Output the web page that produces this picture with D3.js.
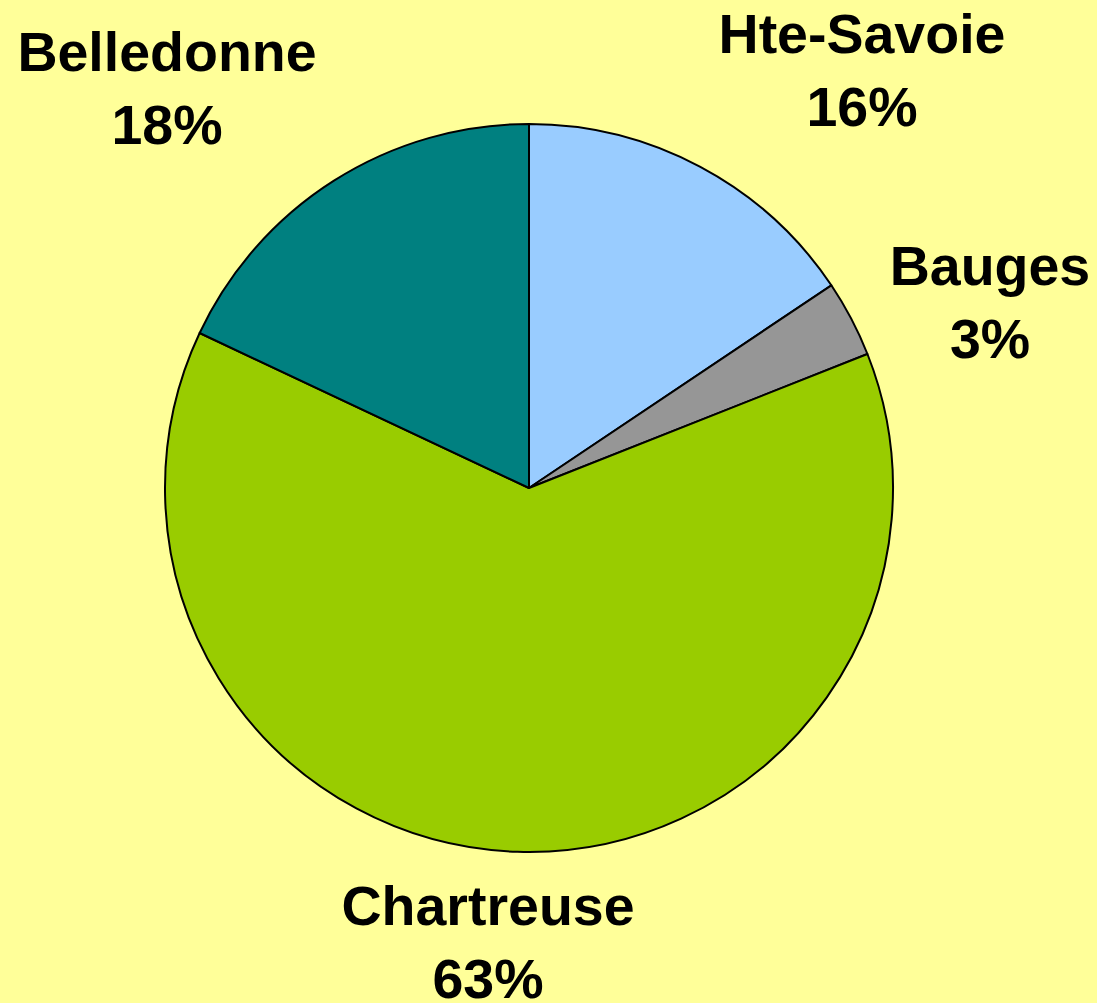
<!DOCTYPE html>
<html>
<head>
<meta charset="utf-8">
<script src="https://cdn.jsdelivr.net/npm/d3@7"></script>
<style>
  html, body { margin: 0; padding: 0; background: #ffff99; }
  svg { display: block; }
</style>
</head>
<body>
<svg class="pie" width="1097" height="1003"></svg>
<script>
// Data (clockwise from 12 o'clock).
const regions = ["Hte-Savoie", "Bauges", "Chartreuse", "Belledonne"];
const shares = [15.6, 3.4, 63, 18];
const sliceColors = ["#99ccff", "#969696", "#99cc00", "#008080"];
// Label anchor (centre x, first baseline y) for each slice.
const labelPos = [[862, 53], [990, 285], [488, 925], [167, 71]];

function drawPie(svgClass) {
    let svg = d3.select(svgClass);
    let width = +svg.attr("width");
    let height = +svg.attr("height");

    svg.append("rect")
        .attr("width", width)
        .attr("height", height)
        .attr("fill", "#ffff99");

    let cx = 529, cy = 488, radius = 364;

    let pie = d3.pie().sort(null).value(d => d.value);
    let arc = d3.arc().innerRadius(0).outerRadius(radius);

    let data = regions.map((r, i) => ({ name: r, value: shares[i], color: sliceColors[i] }));
    let total = d3.sum(shares);

    let g = svg.append("g")
        .attr("transform", "translate(" + cx + ", " + cy + ")");

    g.selectAll("path")
        .data(pie(data))
        .join("path")
        .attr("d", arc)
        .attr("fill", d => d.data.color)
        .attr("stroke", "#000")
        .attr("stroke-width", 2)
        .attr("stroke-linejoin", "round");

    // Labels: name + rounded percent.
    data.forEach((d, i) => {
        let t = svg.append("text")
            .attr("x", labelPos[i][0])
            .attr("y", labelPos[i][1])
            .attr("text-anchor", "middle")
            .attr("font-family", "Liberation Sans, Arial, sans-serif")
            .attr("font-weight", "bold")
            .attr("font-size", 55.5)
            .attr("fill", "#000");
        t.append("tspan").attr("x", labelPos[i][0]).text(d.name);
        t.append("tspan").attr("x", labelPos[i][0]).attr("dy", 73)
            .text(Math.round(d.value / total * 100) + "%");
    });
}

drawPie(".pie");
</script>
</body>
</html>
